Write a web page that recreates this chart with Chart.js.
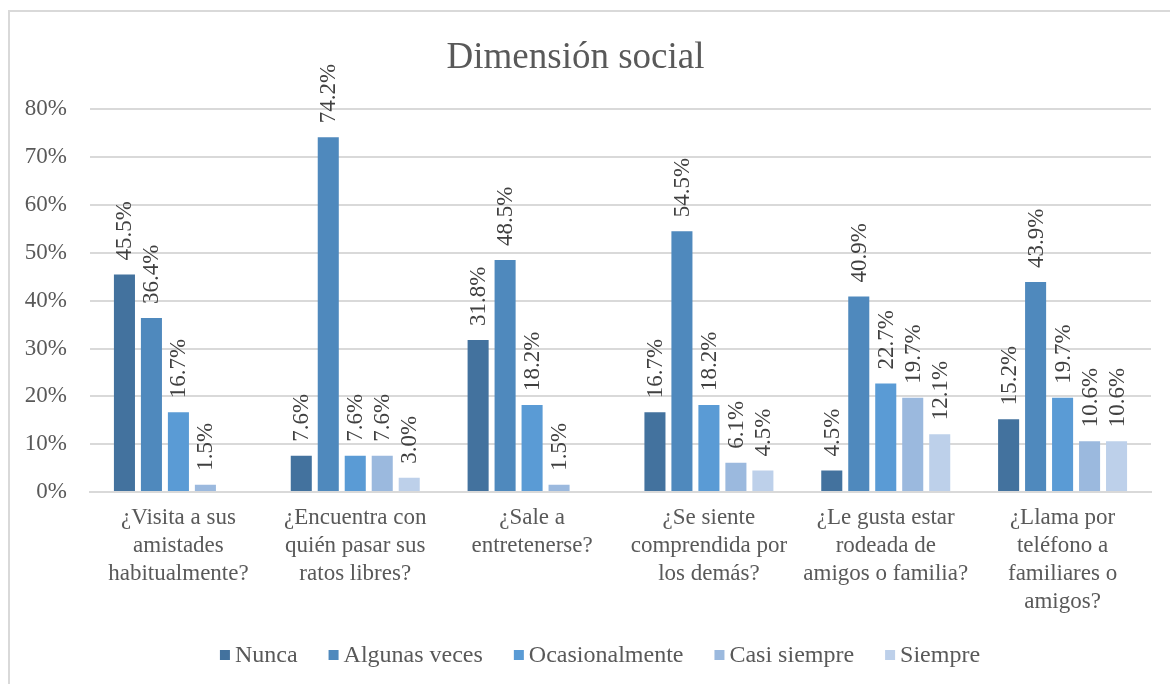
<!DOCTYPE html>
<html>
<head>
<meta charset="utf-8">
<script src="https://cdn.jsdelivr.net/npm/chart.js@4/dist/chart.umd.min.js"></script>
<style>
  html, body { margin: 0; padding: 0; background: #fff; }
  #wrap { position: relative; width: 1170px; height: 684px; }
</style>
</head>
<body>
<div id="wrap"><canvas id="c" width="1170" height="684"></canvas></div>
<script>
const categories = [
  ["¿Visita a sus", "amistades", "habitualmente?"],
  ["¿Encuentra con", "quién pasar sus", "ratos libres?"],
  ["¿Sale a", "entretenerse?"],
  ["¿Se siente", "comprendida por", "los demás?"],
  ["¿Le gusta estar", "rodeada de", "amigos o familia?"],
  ["¿Llama por", "teléfono a", "familiares o", "amigos?"]
];
const seriesNames = ["Nunca", "Algunas veces", "Ocasionalmente", "Casi siempre", "Siempre"];
const nunca          = [45.5, 7.6, 31.8, 16.7, 4.5, 15.2];
const algunasVeces   = [36.4, 74.2, 48.5, 54.5, 40.9, 43.9];
const ocasionalmente = [16.7, 7.6, 18.2, 18.2, 22.7, 19.7];
const casiSiempre    = [1.5, 7.6, 1.5, 6.1, 19.7, 10.6];
const siempre        = [null, 3.0, null, 4.5, 12.1, 10.6];
const yTicks = [0, 10, 20, 30, 40, 50, 60, 70, 80];
const colors = ["#43729E", "#4F89BD", "#5A9BD5", "#9BB9DE", "#BDD0EA"];

const FONT = "'Liberation Serif', 'Times New Roman', serif";
const seriesValues = [nunca, algunasVeces, ocasionalmente, casiSiempre, siempre];

const frame = {
  id: 'frame',
  beforeDraw(chart) {
    const ctx = chart.ctx;
    ctx.save();
    ctx.fillStyle = '#ffffff';
    ctx.fillRect(0, 0, chart.width, chart.height);
    ctx.strokeStyle = '#d9d9d9';
    ctx.lineWidth = 2;
    ctx.strokeRect(9, 11, 1300, 800);
    ctx.restore();
  }
};

const valueLabels = {
  id: 'valueLabels',
  afterDatasetsDraw(chart) {
    const ctx = chart.ctx;
    ctx.save();
    ctx.font = "23px " + FONT;
    ctx.fillStyle = '#404040';
    ctx.textAlign = 'left';
    ctx.textBaseline = 'middle';
    chart.data.datasets.forEach((ds, i) => {
      const meta = chart.getDatasetMeta(i);
      meta.data.forEach((el, j) => {
        const v = ds.data[j];
        if (v === null || v === undefined) return;
        ctx.save();
        ctx.translate(el.x, el.y - 14);
        ctx.rotate(-Math.PI / 2);
        ctx.fillText(v.toFixed(1) + '%', 0, 1);
        ctx.restore();
      });
    });
    ctx.restore();
  }
};

const customLegend = {
  id: 'customLegend',
  afterDraw(chart) {
    const ctx = chart.ctx;
    ctx.save();
    ctx.font = "24px " + FONT;
    ctx.textBaseline = 'middle';
    ctx.textAlign = 'left';
    const box = 10, gapText = 5, gapItem = 31;
    const widths = seriesNames.map(n => box + gapText + ctx.measureText(n).width);
    const total = widths.reduce((a, b) => a + b, 0) + gapItem * (seriesNames.length - 1);
    let x = 600 - total / 2;
    const y = 655;
    seriesNames.forEach((n, i) => {
      ctx.fillStyle = colors[i];
      ctx.fillRect(x, y - box / 2, box, box);
      ctx.fillStyle = '#595959';
      ctx.fillText(n, x + box + gapText, y + 1);
      x += widths[i] + gapItem;
    });
    ctx.restore();
  }
};

new Chart(document.getElementById('c'), {
  type: 'bar',
  data: {
    labels: categories,
    datasets: seriesNames.map((n, i) => ({
      label: n,
      data: seriesValues[i],
      backgroundColor: colors[i],
      borderWidth: 0,
      categoryPercentage: 0.763,
      barPercentage: 0.78
    }))
  },
  options: {
    responsive: false,
    animation: false,
    devicePixelRatio: 1,
    layout: { padding: { left: 0, right: 19, top: 0, bottom: 52 } },
    plugins: {
      title: {
        display: true,
        text: 'Dimensión social',
        color: '#595959',
        font: { family: FONT, size: 37, weight: 'normal' },
        padding: { top: 36, bottom: 29 }
      },
      legend: { display: false },
      tooltip: { enabled: false }
    },
    scales: {
      x: {
        grid: { display: false, drawTicks: false },
        border: { display: true, color: '#d9d9d9', width: 2 },
        ticks: {
          color: '#595959',
          font: { family: FONT, size: 23, lineHeight: 1.22 },
          padding: 12,
          maxRotation: 0,
          autoSkip: false
        },
        afterFit(scale) { scale.height = 140; }
      },
      y: {
        min: 0,
        max: 80,
        afterBuildTicks(scale) { scale.ticks = yTicks.map(v => ({ value: v })); },
        grid: { color: '#d9d9d9', lineWidth: 2, drawTicks: false },
        border: { display: false },
        ticks: {
          color: '#595959',
          font: { family: FONT, size: 23 },
          padding: 23,
          callback: v => v + '%'
        },
        afterFit(scale) { scale.width = 90; }
      }
    }
  },
  plugins: [frame, valueLabels, customLegend]
});
</script>
</body>
</html>
